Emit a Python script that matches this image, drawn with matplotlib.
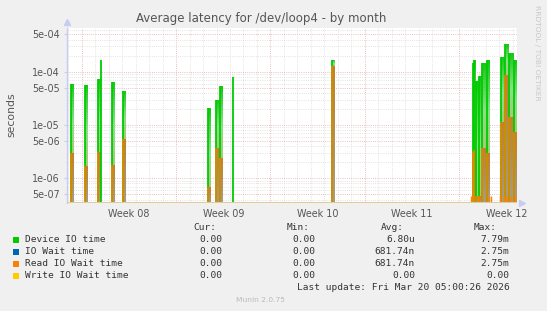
import numpy as np
import matplotlib
matplotlib.use('Agg')
import matplotlib.pyplot as plt
from matplotlib.patches import Rectangle
from matplotlib.ticker import NullLocator
from matplotlib.colors import LinearSegmentedColormap

# --- Data ---
# day offset from the left edge of the graph
spike_day = [0.30, 1.31, 2.32, 2.55, 3.32, 4.18, 10.49, 11.06, 11.36, 12.35, 19.65,
             30.16, 30.24, 30.39, 30.61, 30.83, 31.20, 32.24, 32.54, 32.84, 33.16]
device_io = [5.9e-05, 5.6e-05, 7.2e-05, 1.66e-04, 6.4e-05, 4.35e-05, 2.06e-05, 2.94e-05,
             5.4e-05, 8.1e-05, 1.66e-04, 1.44e-04, 1.66e-04, 6.7e-05, 8.3e-05, 1.48e-04,
             1.66e-04, 1.91e-04, 3.31e-04, 2.21e-04, 1.66e-04]
read_wait = [2.94e-06, 1.7e-06, 3.16e-06, 0, 1.78e-06, 5.4e-06, 6.95e-07, 3.75e-06,
             2.44e-06, 0, 1.28e-04, 3.16e-06, 3.4e-06, 4.6e-07, 4.6e-07, 3.66e-06,
             2.94e-06, 1.15e-05, 8.7e-05, 1.43e-05, 7.5e-06]
# small read-wait blips near the bottom
low_read_day = [30.0, 30.5, 31.3, 31.45, 32.12, 32.40, 32.68, 32.97, 33.26]
low_read_val = [4.6e-07] * 9

week_labels = ['Week 08', 'Week 09', 'Week 10', 'Week 11', 'Week 12']
ytick_vals = [5e-07, 1e-06, 5e-06, 1e-05, 5e-05, 1e-04, 5e-04]
ytick_text = ['5e-07', '1e-06', '5e-06', '1e-05', '5e-05', '1e-04', '5e-04']

legend_names = ['Device IO time', 'IO Wait time', 'Read IO Wait time', 'Write IO Wait time']
legend_colors = ['#00CC00', '#0066B3', '#FF8000', '#FFCC00']
cur_vals = ['0.00', '0.00', '0.00', '0.00']
min_vals = ['0.00', '0.00', '0.00', '0.00']
avg_vals = ['6.80u', '681.74n', '681.74n', '0.00']
max_vals = ['7.79m', '2.75m', '2.75m', '0.00']

# --- Figure layout (pixel based, 547x311) ---
W, H = 547, 311
def fx(x):
    return x / W
def fy(y):
    return 1 - y / H

fig = plt.figure(figsize=(W / 100, H / 100), dpi=100, facecolor='#F0F0F0')
ax = fig.add_axes([fx(67), fy(203), (517 - 67) / W, (203 - 28) / H])
ax.set_facecolor('white')

x0, x1 = 0, 33.4
y0, y1 = 3.44e-07, 6.6e-04
ax.set_xlim(x0, x1)
ax.set_yscale('log')
ax.set_ylim(y0, y1)

# grid: daily minor, weekly major
week_start = 1.1
for k in range(-1, 34):
    d = week_start + k
    if d <= x0 or d >= x1:
        continue
    major = (k % 7 == 0)
    ax.axvline(d, color='#E8A8A8' if major else '#DADADA', lw=0.6,
               ls=(0, (1, 1.6)), zorder=0)
for dec in range(-7, -2):
    for m in range(1, 10):
        v = m * 10.0 ** dec
        if v <= y0 or v >= y1:
            continue
        major = m in (1, 5)
        ax.axhline(v, color='#E8A8A8' if major else '#DADADA', lw=0.6,
                   ls=(0, (1, 1.6)), zorder=0)

# --- Spikes with the soft gradient band rrdtool leaves behind ---
upper_cmap = LinearSegmentedColormap.from_list(
    'up', [(0, '#A8C878'), (0.45, '#86E086'), (0.8, '#44D044'), (1, '#10C810')])
lower_cmap = LinearSegmentedColormap.from_list(
    'low', [(0, '#A89C84'), (0.6, '#B48A50'), (1, '#C88028')])

def gradient_band(d, w, lo, hi, cmap, n=24):
    edges = np.logspace(np.log10(lo), np.log10(hi), n + 1)
    t = (np.arange(n) + 0.5) / n
    ax.bar(np.full(n, d), np.diff(edges), bottom=edges[:-1], width=w, align='edge',
           color=cmap(t), lw=0, zorder=1)

for i, (d, g, r) in enumerate(zip(spike_day, device_io, read_wait)):
    if r <= 0:
        continue
    gap = spike_day[i + 1] - d if i + 1 < len(spike_day) else 1
    w = gap if gap < 0.45 else 0.22
    top = max(g, r)
    if r < top:
        gradient_band(d, w, r, top, upper_cmap)
    gradient_band(d, w, y0, r, lower_cmap)

ax.vlines(spike_day, y0, device_io, color='#00CC00', lw=1.3, zorder=3)
rd = [d for d, r in zip(spike_day, read_wait) if r > 0]
rv = [r for r in read_wait if r > 0]
ax.vlines(rd, y0, rv, color='#FF8000', lw=1.1, zorder=4)
ax.vlines(low_read_day, y0, low_read_val, color='#FF8000', lw=1.0, zorder=4)

# write IO wait sits at zero -> pale line along the bottom
ax.axhline(y0 * 1.01, color='#E0CC99', lw=1.5, zorder=5)

# --- Axes styling ---
for s in ['top', 'right', 'bottom']:
    ax.spines[s].set_visible(False)
ax.spines['left'].set_color('#C8CCF0')
ax.spines['left'].set_linewidth(1.0)
ax.plot([0], [1.035], marker='^', ms=4, color='#C8CCF0', transform=ax.transAxes,
        clip_on=False)
ax.plot([1.01], [0], marker='>', ms=4, color='#C8CCF0', transform=ax.transAxes,
        clip_on=False)

ax.set_yticks(ytick_vals)
ax.set_yticklabels(ytick_text)
ax.yaxis.set_minor_locator(NullLocator())
ax.tick_params(axis='y', length=2, color='#C8CCF0', labelsize=6.9,
               labelcolor='#555555', pad=3)
ax.set_xticks([week_start + 3.5 + 7 * k for k in range(5)])
ax.set_xticklabels(week_labels)
ax.tick_params(axis='x', length=0, labelsize=6.9, labelcolor='#555555', pad=4)

# --- Text ---
fig.text(fx(261), fy(18.5), 'Average latency for /dev/loop4 - by month',
         ha='center', va='center', fontsize=8.5, color='#555555')
fig.text(fx(11), fy(115), 'seconds', rotation=90, ha='center', va='center',
         fontsize=7.8, color='#555555')
fig.text(fx(537.5), fy(53), 'RRDTOOL / TOBI OETIKER', rotation=270, ha='center',
         va='center', fontsize=5.4, color='#C8C8C8')

mono = dict(family='DejaVu Sans Mono', fontsize=6.8, color='#333333', va='center')
fig.text(fx(193), fy(228), 'Cur:', ha='left', **mono)
fig.text(fx(287), fy(228), 'Min:', ha='left', **mono)
fig.text(fx(381), fy(228), 'Avg:', ha='left', **mono)
fig.text(fx(474), fy(228), 'Max:', ha='left', **mono)
for i, name in enumerate(legend_names):
    yc = 239.7 + 12 * i
    fig.add_artist(Rectangle((fx(13.3), fy(yc + 3)), 6 / W, 6 / H,
                             transform=fig.transFigure, color=legend_colors[i], lw=0))
    fig.text(fx(25), fy(yc), name, ha='left', **mono)
    fig.text(fx(222), fy(yc), cur_vals[i], ha='right', **mono)
    fig.text(fx(315.5), fy(yc), min_vals[i], ha='right', **mono)
    fig.text(fx(415), fy(yc), avg_vals[i], ha='right', **mono)
    fig.text(fx(509.5), fy(yc), max_vals[i], ha='right', **mono)
fig.text(fx(509.5), fy(287.7), 'Last update: Fri Mar 20 05:00:26 2026', ha='right', **mono)
fig.text(fx(260), fy(300), 'Munin 2.0.75', ha='center', va='center', fontsize=5.4,
         color='#BBBBBB')

fig.savefig('out.png', dpi=100, facecolor=fig.get_facecolor())
